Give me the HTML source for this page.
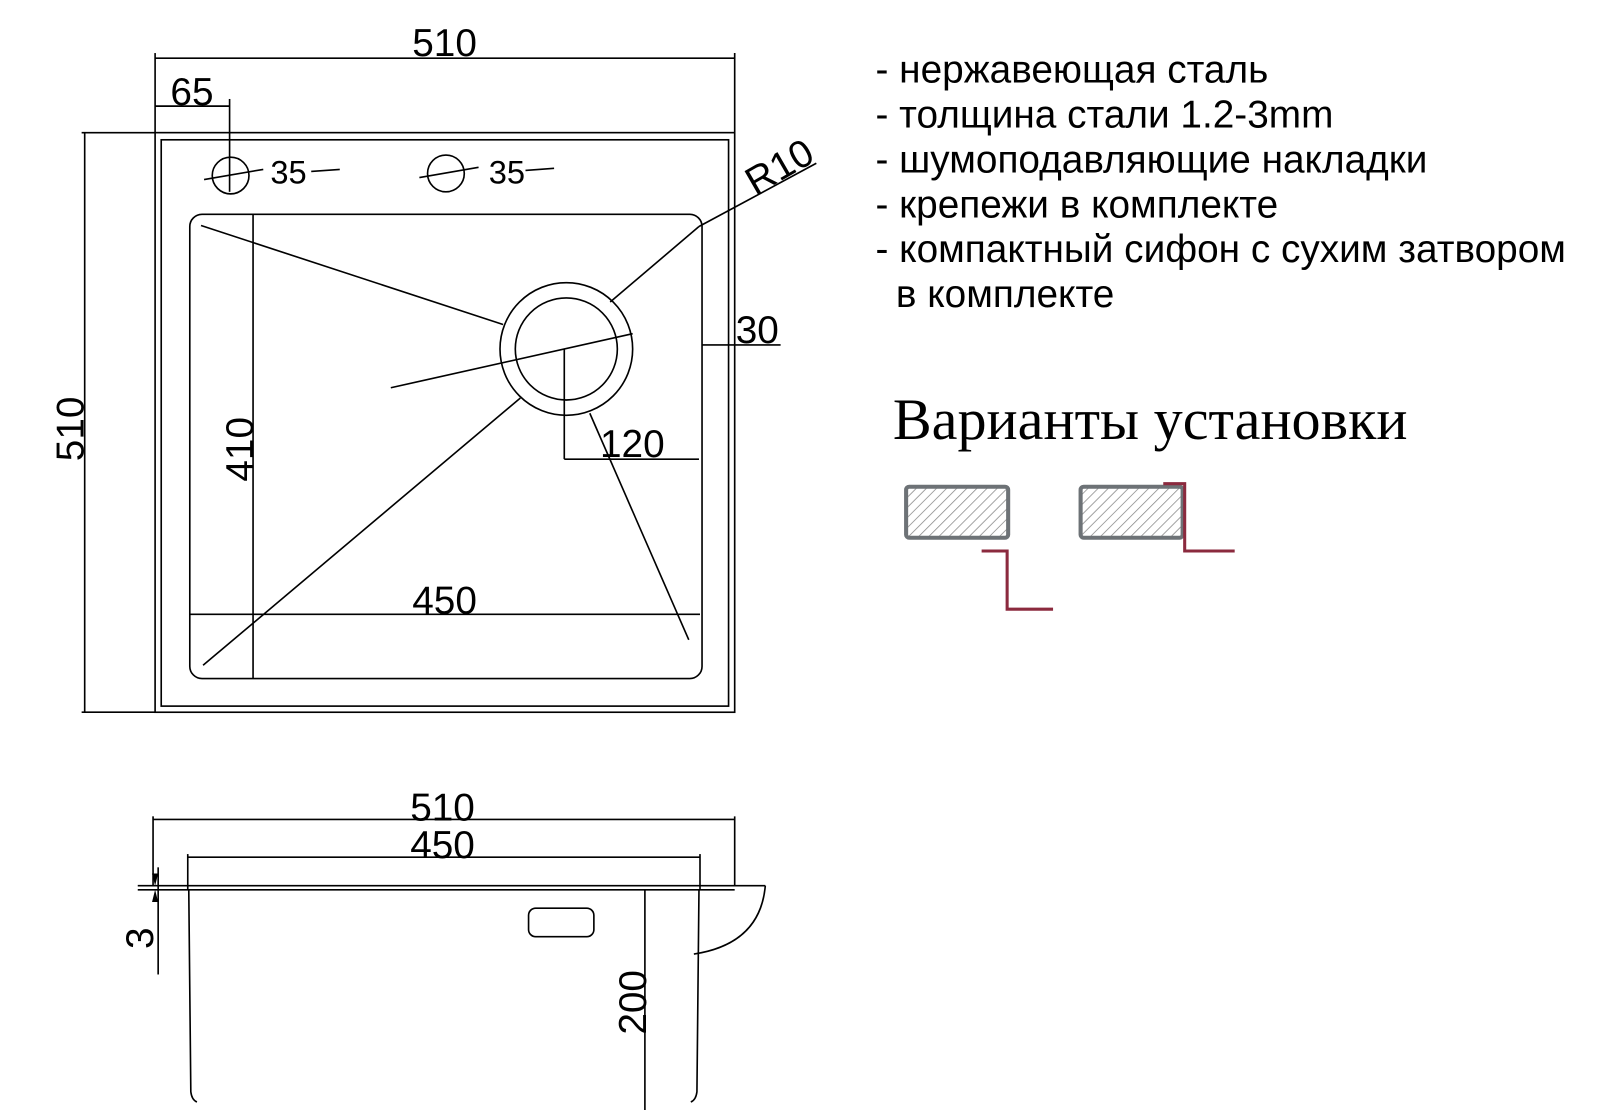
<!DOCTYPE html>
<html><head><meta charset="utf-8"><style>
body{margin:0;background:#fff;width:1600px;height:1110px;overflow:hidden}
svg{display:block}
.t{font-family:"Liberation Sans",sans-serif;font-size:38px;fill:#000}
</style></head><body>
<svg width="1600" height="1110" viewBox="0 0 1600 1110">
<defs><pattern id="h" width="7" height="7" patternUnits="userSpaceOnUse" patternTransform="rotate(45)"><line x1="0" y1="0" x2="0" y2="7" stroke="#888" stroke-width="1.5"/></pattern></defs>
<g transform="scale(1.0204)">
<g stroke="#000" stroke-width="1.6" fill="none">
<rect x="152" y="130" width="568" height="568"/>
<rect x="158" y="137" width="556" height="555"/>
<rect x="186" y="210" width="502" height="455" rx="12"/>
<line x1="152" y1="52" x2="152" y2="130"/><line x1="720" y1="52" x2="720" y2="130"/><line x1="152" y1="57" x2="720" y2="57"/>
<line x1="152" y1="104" x2="225" y2="104"/><line x1="225" y1="97" x2="225" y2="188"/>
<line x1="80" y1="130" x2="152" y2="130"/><line x1="80" y1="698" x2="152" y2="698"/><line x1="83" y1="130" x2="83" y2="698"/>
<circle cx="226" cy="172" r="18"/><line x1="200" y1="176" x2="258" y2="166"/><line x1="305" y1="168" x2="333" y2="166"/>
<circle cx="437" cy="170" r="18"/><line x1="411" y1="174" x2="469" y2="164"/><line x1="515" y1="167" x2="543" y2="165"/>
<circle cx="555" cy="342" r="65"/><circle cx="555" cy="342" r="50"/>
<line x1="197" y1="221" x2="493" y2="318"/><line x1="383" y1="380" x2="620" y2="327"/>
<line x1="199" y1="652" x2="510" y2="390"/><line x1="598" y1="296" x2="685" y2="222"/>
<line x1="685" y1="222" x2="800" y2="160"/><line x1="578" y1="405" x2="675" y2="627"/>
<line x1="553" y1="342" x2="553" y2="450"/><line x1="553" y1="450" x2="685" y2="450"/>
<line x1="688" y1="338" x2="765" y2="338"/>
<line x1="248" y1="210" x2="248" y2="665"/><line x1="186" y1="602" x2="686" y2="602"/>
<line x1="150" y1="803" x2="720" y2="803"/><line x1="150" y1="800" x2="150" y2="868"/><line x1="720" y1="800" x2="720" y2="868"/>
<line x1="184" y1="840" x2="686" y2="840"/><line x1="184" y1="837" x2="184" y2="872"/><line x1="686" y1="837" x2="686" y2="872"/>
<line x1="135" y1="868" x2="750" y2="868"/><line x1="135" y1="872" x2="720" y2="872"/>
<path d="M185 872 L187 1070 Q188 1078 193 1080"/><path d="M685 872 L683 1070 Q682 1078 677 1080"/>
<path d="M750 868 Q745 925 680 935"/>
<rect x="518" y="890" width="64" height="28" rx="7"/>
<line x1="632" y1="872" x2="632" y2="1110"/>
<line x1="155" y1="850" x2="155" y2="955"/>
</g>
<path d="M152 868 l-3 -12 h6z M152 872 l-3 12 h6z" fill="#000"/>
<g class="t">
<text x="404" y="55">510</text><text x="167" y="103">65</text>
<text x="265" y="180" font-size="32">35</text><text x="479" y="180" font-size="32">35</text>
<text x="740" y="192" transform="rotate(-30 740 192)">R10</text>
<text x="721" y="336">30</text><text x="588" y="448">120</text>
<text x="404" y="601">450</text>
<text transform="translate(82 452) rotate(-90)">510</text>
<text transform="translate(248 472) rotate(-90)">410</text>
<text x="402" y="804">510</text><text x="402" y="841">450</text>
<text transform="translate(150 930) rotate(-90)">3</text>
<text transform="translate(633 1014) rotate(-90)">200</text>
<text x="858" y="81">- нержавеющая сталь</text>
<text x="858" y="125">- толщина стали  1.2-3mm</text>
<text x="858" y="169">- шумоподавляющие накладки</text>
<text x="858" y="213">- крепежи в комплекте</text>
<text x="858" y="257">- компактный сифон с сухим затвором</text>
<text x="878" y="301">в комплекте</text>
</g>
<text x="875" y="430" font-family="Liberation Serif,serif" font-size="57">Варианты установки</text>
<rect x="888" y="477" width="100" height="50" rx="3" fill="url(#h)" stroke="#6d7276" stroke-width="4"/>
<path d="M962 540 H987 V597 H1032" fill="none" stroke="#8b2a3e" stroke-width="3"/>
<rect x="1059" y="477" width="100" height="50" rx="3" fill="url(#h)" stroke="#6d7276" stroke-width="4"/>
<path d="M1140 474 H1161 V540 H1210" fill="none" stroke="#8b2a3e" stroke-width="3"/>
</g>
</svg>
</body></html>
